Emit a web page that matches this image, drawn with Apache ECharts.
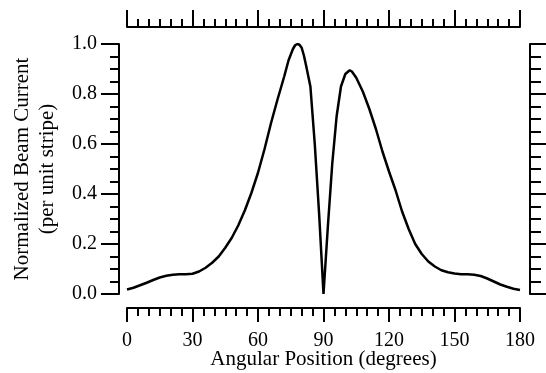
<!DOCTYPE html>
<html>
<head>
<meta charset="utf-8">
<script src="https://cdn.jsdelivr.net/npm/echarts@6/dist/echarts.min.js"></script>
<style>html,body{margin:0;padding:0;background:#fff;}#c{width:546px;height:373px;}</style>
</head>
<body>
<div id="c"></div>
<script>
// Angular position (degrees)
const angles = [0,3,6,9,12,15,18,21,24,27,30,33,36,39,42,45,48,51,54,57,60,63,66,69,72,74,76,77,78,79,80,81,82,84,86,88,90,92,94,96,98,100,102,103,105,108,111,114,117,120,123,126,129,132,135,138,141,144,147,150,153,156,159,162,165,168,171,174,177,180];
// Normalized beam current (per unit stripe)
const current = [0.018,0.025,0.035,0.045,0.056,0.066,0.073,0.077,0.079,0.079,0.081,0.090,0.105,0.125,0.150,0.185,0.225,0.275,0.335,0.405,0.485,0.580,0.685,0.780,0.870,0.935,0.980,0.995,1.000,0.997,0.985,0.955,0.915,0.830,0.600,0.320,0.000,0.270,0.520,0.710,0.830,0.880,0.895,0.890,0.865,0.810,0.740,0.660,0.570,0.490,0.415,0.330,0.260,0.200,0.160,0.130,0.110,0.095,0.087,0.082,0.079,0.079,0.077,0.072,0.062,0.050,0.038,0.029,0.021,0.016];
const xTicks = [0,30,60,90,120,150,180];
const yTicks = [0.0,0.2,0.4,0.6,0.8,1.0];

const font = 'Liberation Serif';
const data = angles.map((a,i)=>[a,current[i]]);
const chart = echarts.init(document.getElementById('c'));
const lineStyle = {color:'#000', width:2};
function xAx(pos, offset, showLabel, major, minor, name){
  return {
    type:'value', position:pos, offset:offset, min:xTicks[0], max:xTicks[xTicks.length-1], interval:30,
    axisLine:{show:true, onZero:false, lineStyle:lineStyle},
    axisTick:{show:true, inside:false, length:major, lineStyle:lineStyle},
    minorTick:{show:true, splitNumber:6, length:minor, lineStyle:lineStyle},
    splitLine:{show:false}, minorSplitLine:{show:false},
    axisLabel:{show:showLabel, fontFamily:font, fontSize:20, color:'#000', margin:23},
    name:name, nameLocation:'middle', nameGap:41, nameMoveOverlap:false,
    nameTextStyle:{fontFamily:font, fontSize:21, color:'#000'}
  };
}
function yAx(pos, offset, showLabel, major, minor, name){
  return {
    type:'value', position:pos, offset:offset, min:yTicks[0], max:yTicks[yTicks.length-1], interval:0.2,
    axisLine:{show:true, onZero:false, lineStyle:lineStyle},
    axisTick:{show:true, inside:false, length:major, lineStyle:lineStyle},
    minorTick:{show:true, splitNumber:4, length:minor, lineStyle:lineStyle},
    splitLine:{show:false}, minorSplitLine:{show:false},
    axisLabel:{show:showLabel, fontFamily:font, fontSize:20, color:'#000', margin:22,
      formatter:v=>v.toFixed(1)},
    name:name, nameLocation:'middle', nameGap:59, nameRotate:90, nameMoveOverlap:false,
    nameTextStyle:{fontFamily:font, fontSize:21, color:'#000', lineHeight:25, align:'center'}
  };
}
chart.setOption({
  animation:false,
  backgroundColor:'#fff',
  grid:{left:127, right:26, top:44, bottom:79, containLabel:false, outerBoundsMode:'none'},
  xAxis:[
    xAx('bottom', 14, true, 14, 8, 'Angular Position (degrees)'),
    xAx('top', 17, false, 17, 8, '')
  ],
  yAxis:[
    yAx('left', 8, true, 18, 9, 'Normalized Beam Current\n(per unit stripe)'),
    yAx('right', 10, false, 16, 11, '')
  ],
  series:[{
    type:'line', data:data, xAxisIndex:0, yAxisIndex:0,
    showSymbol:false, symbol:'none', smooth:false,
    lineStyle:{color:'#000', width:2.5}
  }]
});
</script>
</body>
</html>
